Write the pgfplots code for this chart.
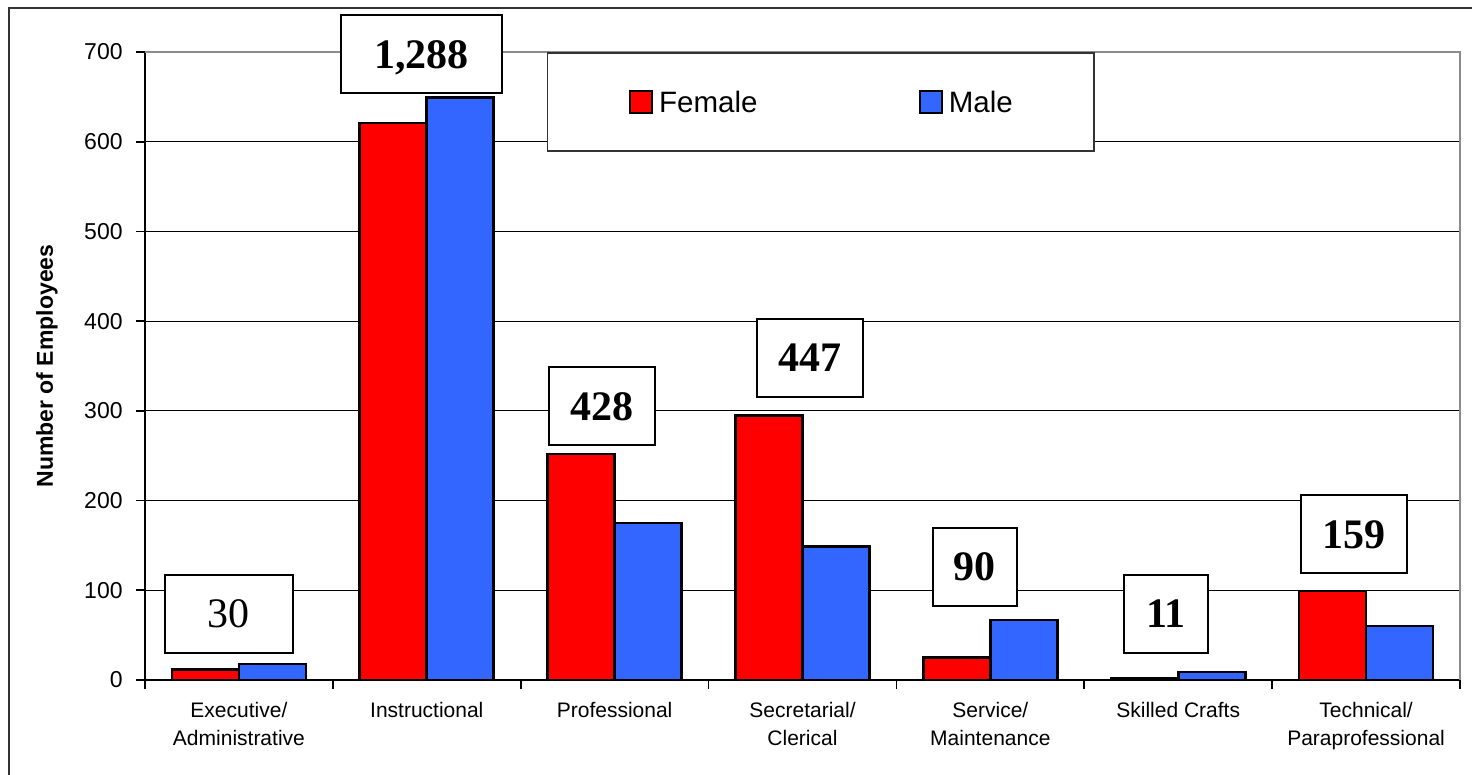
\documentclass[border=0pt]{standalone}
\usepackage{fontspec}
\setmainfont{Liberation Serif}
\newfontfamily\arial{Liberation Sans}
\usepackage{pgfplots}
\usepackage{pgfplotstable}
\pgfplotsset{compat=1.18}
\definecolor{fem}{HTML}{FF0000}
\definecolor{mal}{HTML}{3366FF}
\pgfplotstableread{
x female male
0 12 18
1 621 649
2 252 175
3 295 149
4 25 67
5 2 9
6 99 60
}\datatable
\tikzset{lbl/.style={draw=black, line width=1pt, fill=white, inner sep=0pt, minimum height=39pt, text depth=0pt, font=\fontsize{21}{21}\selectfont\bfseries}}
\begin{document}
\begin{tikzpicture}
\path[use as bounding box] (-72.5pt,-47.5pt) rectangle (663.5pt,340pt);
\draw[line width=1pt, black!80] (-68pt,-60pt) -- (-68pt,336pt) -- (700pt,336pt);
\begin{axis}[
  at={(0pt,0pt)}, anchor=south west,
  width=657.5pt, height=314pt, scale only axis,
  clip=false,
  xmin=-0.5, xmax=6.5, ymin=0, ymax=700,
  axis x line*=bottom, axis y line*=left,
  axis line style={black, line width=1pt},
  ytick={0,100,...,700},
  minor ytick={0,100,...,700},
  xtick={0,1,...,6},
  xticklabels={Executive/\\Administrative, Instructional, Professional, Secretarial/\\Clerical, Service/\\Maintenance, Skilled Crafts, Technical/\\Paraprofessional},
  minor xtick={-0.5,0.5,...,6.5},
  major tick length=0pt,
  minor tick length=4.5pt,
  tick align=outside,
  tick style={black, line width=0.8pt},
  ymajorgrids, yminorgrids=false, xminorgrids=false,
  major grid style={black, line width=0.6pt},
  /pgf/number format/assume math mode=true,
  yticklabel style={font=\arial\fontsize{11.5}{12}\selectfont, inner sep=0pt, xshift=-11pt},
  xticklabel style={font=\arial\fontsize{10.5}{14}\selectfont, align=center, inner sep=0pt, yshift=-10.8pt},
  ylabel={Number of Employees},
  every axis y label/.style={at={(axis description cs:-0.070,0.5)}, rotate=90, anchor=base, font=\arial\bfseries\fontsize{11.5}{12}\selectfont},
  ybar=0pt,
  bar width=33.5pt,
  legend columns=2,
  legend style={at={(axis description cs:0.3057,1)}, anchor=north west, draw=black!80, line width=0.75pt, fill=white, inner xsep=40.5pt, inner ysep=18.5pt, font=\arial\fontsize{14.75}{15}\selectfont, /tikz/every odd column/.style={column sep=3pt}, /tikz/every even column/.style={column sep=80.5pt}, nodes={inner sep=0pt, text height=11pt, text depth=0pt, anchor=base west}},
]
\addplot[fill=fem, draw=black, line width=1.3pt, bar shift=-16.75pt, legend image code/.code={\draw[fill=fem, draw=black, line width=1.2pt] (0pt,0pt) rectangle (11pt,11pt);}] table[x=x, y=female] {\datatable};
\addlegendentry{Female}
\addplot[fill=mal, draw=black, line width=1.3pt, bar shift=16.75pt, legend image code/.code={\draw[fill=mal, draw=black, line width=1.2pt] (0pt,0pt) rectangle (11pt,11pt);}] table[x=x, y=male] {\datatable};
\addlegendentry{Male}
\draw[black!45, line width=1.3pt] (rel axis cs:0,1) -- (rel axis cs:1,1) -- (rel axis cs:1,0);
\node[lbl, minimum width=64pt, font=\fontsize{21}{21}\selectfont] at (axis cs:-0.053,73.6) {30};
\node[lbl, minimum width=80.5pt] at (axis cs:0.972,697.3) {1,288};
\node[lbl, minimum width=53pt] at (axis cs:1.933,304.9) {428};
\node[lbl, minimum width=53pt] at (axis cs:3.040,358.9) {447};
\node[lbl, minimum width=42pt] at (axis cs:3.918,126.5) {90};
\node[lbl, minimum width=42pt] at (axis cs:4.935,73.6) {11};
\node[lbl, minimum width=53pt] at (axis cs:5.936,162.2) {159};
\end{axis}
\end{tikzpicture}
\end{document}
